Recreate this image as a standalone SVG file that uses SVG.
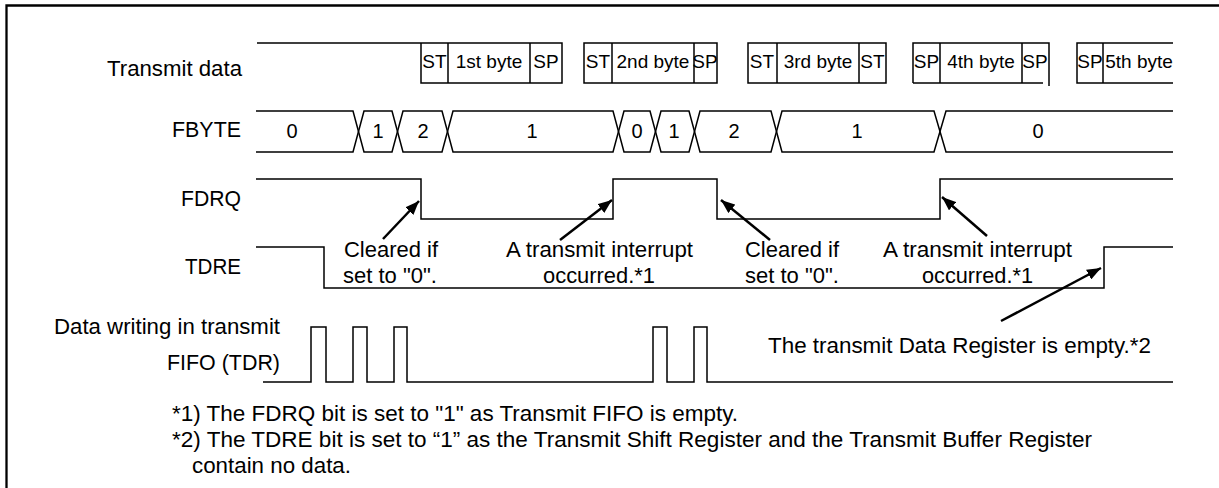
<svg xmlns="http://www.w3.org/2000/svg" width="1219" height="488" viewBox="0 0 1219 488">
<style>
text{font-family:"Liberation Sans",Arial,sans-serif;fill:#000}
.lbl{font-size:21.5px}
.box{font-size:19px;text-anchor:middle}
.num{font-size:20px;text-anchor:middle}
.sig{fill:none;stroke:#000;stroke-width:1.5}
.arr{fill:none;stroke:#000;stroke-width:2.5;marker-end:url(#ah)}
</style>
<defs>
<marker id="ah" markerUnits="userSpaceOnUse" markerWidth="15" markerHeight="11" refX="14" refY="5.5" orient="auto">
<path d="M0,0 L14,5.5 L0,11 z" fill="#000"/>
</marker>
</defs>
<rect width="1219" height="488" fill="#fff"/>
<path d="M6.5,488 V5.5 H1219" fill="none" stroke="#000" stroke-width="2.3"/>

<g id="labels">
<text class="lbl" x="107" y="76" textLength="135" lengthAdjust="spacingAndGlyphs">Transmit data</text>
<text class="lbl" x="172" y="137" textLength="69" lengthAdjust="spacingAndGlyphs">FBYTE</text>
<text class="lbl" x="181" y="206" textLength="60" lengthAdjust="spacingAndGlyphs">FDRQ</text>
<text class="lbl" x="185" y="274" textLength="56" lengthAdjust="spacingAndGlyphs">TDRE</text>
<text class="lbl" x="54" y="334" textLength="226" lengthAdjust="spacingAndGlyphs">Data writing in transmit</text>
<text class="lbl" x="167" y="370" textLength="113" lengthAdjust="spacingAndGlyphs">FIFO (TDR)</text>
</g>

<g id="transmit-data">
<path class="sig" d="M257,43 H562 V83 H421 V43 M448,43 V83 M530,43 V83"/>
<path class="sig" d="M584,43 H717 V83 H584 Z M612,43 V83 M694,43 V83"/>
<path class="sig" d="M748,43 H886 V83 H748 Z M777,43 V83 M859,43 V83"/>
<path class="sig" d="M913,83 V43 H1049 V86 M1043,83 H913 M940,43 V83 M1022,43 V83"/>
<path class="sig" d="M1173,43 H1077 V83 H1173 M1103,43 V83"/>
<text class="box" x="434.5" y="68">ST</text>
<text class="box" x="489" y="68">1st byte</text>
<text class="box" x="546" y="68">SP</text>
<text class="box" x="598" y="68">ST</text>
<text class="box" x="653" y="68">2nd byte</text>
<text class="box" x="705" y="68">SP</text>
<text class="box" x="762" y="68">ST</text>
<text class="box" x="818" y="68">3rd byte</text>
<text class="box" x="872.5" y="68">ST</text>
<text class="box" x="926.5" y="68">SP</text>
<text class="box" x="981" y="68">4th byte</text>
<text class="box" x="1035" y="68">SP</text>
<text class="box" x="1090" y="68">SP</text>
<text class="box" x="1139" y="68">5th byte</text>
</g>

<g id="fbyte">
<path class="sig" d="M256,111 H353 L364,152 H392 L403,111 H442 L453,152 H613 L624,111 H650 L661,152 H689 L700,111 H771 L782,152 H934 L946,111 H1173"/>
<path class="sig" d="M256,152 H353 L364,111 H392 L403,152 H442 L453,111 H613 L624,152 H650 L661,111 H689 L700,152 H771 L782,111 H934 L946,152 H1173"/>
<text class="num" x="292" y="138">0</text>
<text class="num" x="378" y="138">1</text>
<text class="num" x="423" y="138">2</text>
<text class="num" x="532" y="138">1</text>
<text class="num" x="637" y="138">0</text>
<text class="num" x="674" y="138">1</text>
<text class="num" x="734" y="138">2</text>
<text class="num" x="857" y="138">1</text>
<text class="num" x="1038" y="138">0</text>
</g>

<g id="fdrq">
<path class="sig" d="M256,179 H421 V219 H613 V179 H717 V219 H940 V179 H1173"/>
</g>

<g id="tdre">
<path class="sig" d="M256,247 H324 V288 H1104 V247 H1173"/>
</g>

<g id="fifo-write">
<path class="sig" d="M263,382 H311 V327 H326 V382 H353 V327 H367 V382 H394 V327 H407 V382 H653 V327 H667 V382 H694 V327 H707 V382 H1173"/>
</g>

<g id="connectors">
<line class="arr" x1="383" y1="239" x2="419" y2="201"/>
<line class="arr" x1="560" y1="240" x2="612" y2="200"/>
<line class="arr" x1="770" y1="240" x2="721" y2="200"/>
<line class="arr" x1="987" y1="236" x2="942" y2="197"/>
<line class="arr" x1="1001" y1="321" x2="1101" y2="268"/>
</g>

<g id="annotations">
<text class="lbl" x="344" y="257" textLength="94" lengthAdjust="spacingAndGlyphs">Cleared if</text>
<text class="lbl" x="343" y="283" textLength="94" lengthAdjust="spacingAndGlyphs">set to "0".</text>
<text class="lbl" x="506" y="257" textLength="187" lengthAdjust="spacingAndGlyphs">A transmit interrupt</text>
<text class="lbl" x="543" y="283" textLength="112" lengthAdjust="spacingAndGlyphs">occurred.*1</text>
<text class="lbl" x="745" y="257" textLength="94" lengthAdjust="spacingAndGlyphs">Cleared if</text>
<text class="lbl" x="745" y="283" textLength="94" lengthAdjust="spacingAndGlyphs">set to "0".</text>
<text class="lbl" x="883" y="257" textLength="189" lengthAdjust="spacingAndGlyphs">A transmit interrupt</text>
<text class="lbl" x="922" y="283" textLength="111" lengthAdjust="spacingAndGlyphs">occurred.*1</text>
<text class="lbl" x="768" y="353" textLength="383" lengthAdjust="spacingAndGlyphs">The transmit Data Register is empty.*2</text>
</g>

<g id="notes">
<text class="lbl" x="172" y="421" textLength="566" lengthAdjust="spacingAndGlyphs">*1) The FDRQ bit is set to "1" as Transmit FIFO is empty.</text>
<text class="lbl" x="172" y="447" textLength="920" lengthAdjust="spacingAndGlyphs">*2) The TDRE bit is set to “1” as the Transmit Shift Register and the Transmit Buffer Register</text>
<text class="lbl" x="192" y="473" textLength="159" lengthAdjust="spacingAndGlyphs">contain no data.</text>
</g>
</svg>
